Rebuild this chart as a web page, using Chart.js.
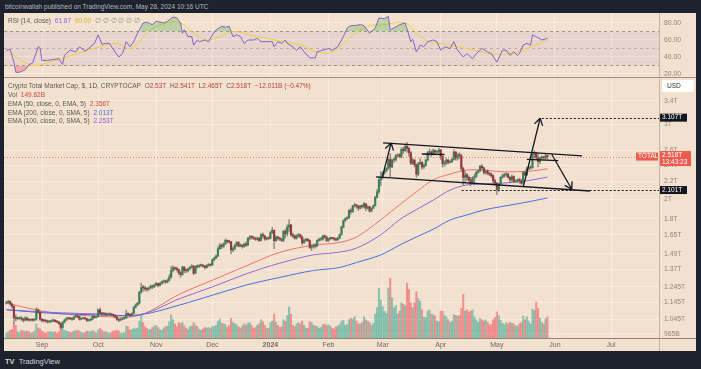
<!DOCTYPE html>
<html>
<head>
<meta charset="utf-8">
<script src="https://cdn.jsdelivr.net/npm/chart.js@4.4.1/dist/chart.umd.min.js"></script>
<style>
  body { margin: 0; width: 701px; height: 369px; background: #1e222d; position: relative; overflow: hidden; font-family: 'Liberation Sans', Arial, sans-serif; }
  #panel { position: absolute; left: 4px; top: 13px; width: 692px; height: 338px; background: #f2e1cf; }
  canvas { position: absolute; left: 4px; }
  #rsi { top: 13px; }
  #main { top: 79px; }
  .txt { position: absolute; white-space: pre; font-size: 6.5px; line-height: 8px; color: #5d5853; }
  .txt span { margin-left: 2px; }
  #pub { left: 5px; top: 3px; color: #b2b5be; }
  #usd { left: 662px; top: 80px; width: 32px; height: 12px; background: #fff; border-radius: 2px; font-size: 6.5px; line-height: 12px; text-indent: 5px; color: #333; }
  #footer { left: 5px; top: 357px; font-size: 7.5px; line-height: 9px; color: #d1d4dc; }
  .red { color: #d2463c; }
  .val { color: #b5413a; }
  .blue { color: #4a6fe3; }
  .purple { color: #8e63d6; }
  .yellow { color: #d7b92a; }
  .gray { color: #9a938c; }
</style>
</head>
<body>
<div class="txt" id="pub">bitcoinwallah published on TradingView.com, May 28, 2024 10:16 UTC</div>
<div id="panel"></div>
<canvas id="rsi" width="692" height="65"></canvas>
<canvas id="main" width="692" height="272"></canvas>

<div class="txt" style="left:8px;top:17px">RSI (14, close) <span class="purple">61.87</span> <span class="yellow">60.00</span> <span class="gray">∅ ∅ ∅ ∅ ∅ ∅</span></div>
<div class="txt" style="left:8px;top:82px">Crypto Total Market Cap, $, 1D, CRYPTOCAP <span>O</span><span class="val" style="margin:0">2.53T</span> <span>H</span><span class="val" style="margin:0">2.541T</span> <span>L</span><span class="val" style="margin:0">2.465T</span> <span>C</span><span class="val" style="margin:0">2.518T</span> <span class="val">−12.011B (−0.47%)</span></div>
<div class="txt" style="left:8px;top:91px">Vol <span class="red">149.62B</span></div>
<div class="txt" style="left:8px;top:100px">EMA (50, close, 0, EMA, 5) <span class="red">2.356T</span></div>
<div class="txt" style="left:8px;top:109px">EMA (200, close, 0, SMA, 5) <span class="blue">2.013T</span></div>
<div class="txt" style="left:8px;top:117px">EMA (100, close, 0, SMA, 5) <span class="purple">2.253T</span></div>
<div class="txt" id="usd">USD</div>
<div class="txt" id="footer"><b>TV</b>  TradingView</div>

<script>
'use strict';

// day 0 = Sep 1, 2023; first candle is Aug 13, 2023
const firstDay = -19;
const firstOpen = 1.140;

// daily closes in trillions USD (Aug 13, 2023 .. May 28, 2024)
const closes = [
  1.145, 1.150, 1.135, 1.120, 1.055, 1.048, 1.050,
  1.052, 1.046, 1.040, 1.052, 1.042, 1.040, 1.042,
  1.040, 1.045, 1.100, 1.085, 1.045, 1.038, 1.036,
  1.035, 1.030, 1.032, 1.036, 1.040, 1.032, 1.030,
  1.022, 1.000, 1.028, 1.040, 1.048, 1.050, 1.048,
  1.045, 1.058, 1.065, 1.060, 1.045, 1.048, 1.050,
  1.048, 1.038, 1.040, 1.045, 1.062, 1.055, 1.060,
  1.100, 1.080, 1.075, 1.078, 1.070, 1.075, 1.076,
  1.070, 1.068, 1.058, 1.045, 1.040, 1.045, 1.048,
  1.052, 1.078, 1.072, 1.068, 1.078, 1.115, 1.128,
  1.140, 1.210, 1.240, 1.238, 1.232, 1.228, 1.238,
  1.250, 1.245, 1.258, 1.268, 1.255, 1.268, 1.280,
  1.282, 1.278, 1.290, 1.312, 1.362, 1.380, 1.375,
  1.368, 1.345, 1.330, 1.385, 1.360, 1.358, 1.372,
  1.385, 1.392, 1.340, 1.390, 1.388, 1.398, 1.400,
  1.392, 1.382, 1.398, 1.402, 1.400, 1.440, 1.455,
  1.470, 1.530, 1.560, 1.548, 1.570, 1.600, 1.590,
  1.588, 1.520, 1.530, 1.560, 1.582, 1.552, 1.560,
  1.548, 1.570, 1.560, 1.620, 1.630, 1.628, 1.618,
  1.610, 1.620, 1.600, 1.650, 1.640, 1.612, 1.620,
  1.618, 1.670, 1.690, 1.598, 1.630, 1.620, 1.612,
  1.600, 1.680, 1.660, 1.720, 1.740, 1.650, 1.640,
  1.620, 1.640, 1.650, 1.630, 1.580, 1.600, 1.610,
  1.600, 1.540, 1.550, 1.555, 1.552, 1.600, 1.610,
  1.610, 1.640, 1.630, 1.600, 1.615, 1.620, 1.618,
  1.612, 1.605, 1.620, 1.650, 1.720, 1.780, 1.800,
  1.810, 1.880, 1.870, 1.930, 1.940, 1.925, 1.905,
  1.930, 1.920, 1.950, 1.905, 1.920, 1.875, 1.905,
  1.930, 2.020, 2.080, 2.220, 2.250, 2.300, 2.330,
  2.360, 2.480, 2.380, 2.470, 2.470, 2.530, 2.540,
  2.520, 2.620, 2.600, 2.660, 2.630, 2.570, 2.430,
  2.470, 2.410, 2.290, 2.420, 2.440, 2.380, 2.400,
  2.470, 2.570, 2.580, 2.550, 2.600, 2.580, 2.580,
  2.610, 2.520, 2.420, 2.430, 2.470, 2.440, 2.450,
  2.480, 2.580, 2.500, 2.540, 2.530, 2.360, 2.250,
  2.280, 2.250, 2.220, 2.180, 2.240, 2.260, 2.310,
  2.330, 2.390, 2.370, 2.310, 2.330, 2.300, 2.290,
  2.270, 2.210, 2.180, 2.110, 2.170, 2.250, 2.270,
  2.280, 2.290, 2.250, 2.220, 2.260, 2.200, 2.210,
  2.220, 2.210, 2.180, 2.310, 2.280, 2.360, 2.370,
  2.370, 2.550, 2.560, 2.500, 2.450, 2.500, 2.510,
  2.500, 2.530, 2.518
];

const highs = [
  1.152, 1.158, 1.155, 1.140, 1.125, 1.070, 1.058,
  1.058, 1.060, 1.052, 1.060, 1.058, 1.048, 1.046,
  1.048, 1.050, 1.112, 1.105, 1.090, 1.050, 1.044,
  1.042, 1.040, 1.038, 1.042, 1.046, 1.042, 1.036,
  1.034, 1.025, 1.032, 1.046, 1.055, 1.058, 1.054,
  1.052, 1.062, 1.072, 1.070, 1.062, 1.052, 1.054,
  1.054, 1.050, 1.046, 1.050, 1.068, 1.066, 1.064,
  1.104, 1.110, 1.085, 1.084, 1.082, 1.080, 1.080,
  1.078, 1.075, 1.070, 1.060, 1.048, 1.050, 1.052,
  1.056, 1.098, 1.082, 1.076, 1.082, 1.120, 1.135,
  1.145, 1.215, 1.270, 1.255, 1.250, 1.240, 1.245,
  1.258, 1.256, 1.264, 1.275, 1.270, 1.274, 1.286,
  1.292, 1.290, 1.298, 1.330, 1.392, 1.395, 1.385,
  1.385, 1.372, 1.352, 1.392, 1.390, 1.372, 1.378,
  1.392, 1.405, 1.398, 1.395, 1.402, 1.405, 1.408,
  1.405, 1.398, 1.405, 1.412, 1.410, 1.448, 1.462,
  1.480, 1.545, 1.575, 1.568, 1.580, 1.612, 1.605,
  1.602, 1.592, 1.545, 1.568, 1.592, 1.590, 1.572,
  1.566, 1.578, 1.588, 1.628, 1.645, 1.642, 1.634,
  1.628, 1.630, 1.626, 1.660, 1.668, 1.648, 1.630,
  1.630, 1.680, 1.718, 1.695, 1.640, 1.638, 1.628,
  1.618, 1.690, 1.700, 1.740, 1.790, 1.745, 1.665,
  1.648, 1.652, 1.662, 1.655, 1.640, 1.612, 1.620,
  1.618, 1.605, 1.565, 1.570, 1.572, 1.608, 1.620,
  1.625, 1.648, 1.650, 1.640, 1.622, 1.630, 1.626,
  1.625, 1.620, 1.630, 1.658, 1.728, 1.790, 1.808,
  1.820, 1.890, 1.905, 1.935, 1.955, 1.945, 1.935,
  1.935, 1.940, 1.965, 1.955, 1.930, 1.925, 1.910,
  1.940, 2.030, 2.110, 2.260, 2.320, 2.320, 2.345,
  2.372, 2.490, 2.560, 2.480, 2.500, 2.545, 2.555,
  2.560, 2.640, 2.650, 2.680, 2.720, 2.650, 2.590,
  2.490, 2.480, 2.420, 2.440, 2.490, 2.450, 2.420,
  2.480, 2.590, 2.620, 2.600, 2.620, 2.610, 2.595,
  2.630, 2.615, 2.525, 2.460, 2.490, 2.480, 2.460,
  2.490, 2.610, 2.590, 2.560, 2.570, 2.550, 2.380,
  2.320, 2.300, 2.270, 2.250, 2.260, 2.290, 2.330,
  2.340, 2.400, 2.410, 2.380, 2.345, 2.340, 2.310,
  2.305, 2.280, 2.230, 2.190, 2.180, 2.260, 2.290,
  2.300, 2.310, 2.300, 2.260, 2.280, 2.270, 2.220,
  2.230, 2.240, 2.230, 2.320, 2.330, 2.380, 2.390,
  2.395, 2.560, 2.600, 2.580, 2.560, 2.510, 2.530,
  2.520, 2.560, 2.541
];

const lows = [
  1.135, 1.140, 1.128, 1.110, 1.020, 1.035, 1.042,
  1.044, 1.038, 1.030, 1.036, 1.035, 1.034, 1.036,
  1.034, 1.036, 1.040, 1.078, 1.038, 1.028, 1.030,
  1.028, 1.024, 1.025, 1.028, 1.032, 1.028, 1.025,
  1.015, 0.992, 0.998, 1.024, 1.036, 1.042, 1.042,
  1.038, 1.042, 1.054, 1.052, 1.040, 1.042, 1.045,
  1.042, 1.032, 1.034, 1.036, 1.042, 1.050, 1.052,
  1.058, 1.072, 1.066, 1.068, 1.062, 1.066, 1.070,
  1.064, 1.060, 1.052, 1.038, 1.032, 1.038, 1.042,
  1.044, 1.050, 1.066, 1.060, 1.064, 1.075, 1.110,
  1.125, 1.135, 1.200, 1.215, 1.218, 1.215, 1.222,
  1.232, 1.232, 1.240, 1.252, 1.245, 1.250, 1.262,
  1.270, 1.268, 1.272, 1.285, 1.305, 1.350, 1.362,
  1.355, 1.330, 1.310, 1.325, 1.345, 1.345, 1.350,
  1.365, 1.378, 1.330, 1.338, 1.378, 1.382, 1.390,
  1.385, 1.370, 1.378, 1.390, 1.392, 1.398, 1.435,
  1.450, 1.465, 1.525, 1.530, 1.540, 1.565, 1.578,
  1.575, 1.488, 1.505, 1.520, 1.548, 1.545, 1.545,
  1.535, 1.540, 1.548, 1.555, 1.605, 1.612, 1.608,
  1.600, 1.602, 1.590, 1.596, 1.625, 1.600, 1.605,
  1.606, 1.612, 1.660, 1.530, 1.590, 1.605, 1.598,
  1.590, 1.590, 1.620, 1.640, 1.680, 1.635, 1.625,
  1.610, 1.612, 1.628, 1.620, 1.560, 1.575, 1.592,
  1.590, 1.532, 1.515, 1.535, 1.535, 1.548, 1.592,
  1.598, 1.602, 1.618, 1.590, 1.588, 1.605, 1.610,
  1.600, 1.596, 1.600, 1.615, 1.645, 1.712, 1.770,
  1.790, 1.800, 1.845, 1.862, 1.915, 1.905, 1.880,
  1.898, 1.905, 1.905, 1.880, 1.895, 1.862, 1.872,
  1.900, 1.925, 2.010, 2.060, 2.150, 2.230, 2.290,
  2.320, 2.350, 2.260, 2.370, 2.440, 2.460, 2.515,
  2.500, 2.500, 2.560, 2.590, 2.580, 2.520, 2.410,
  2.410, 2.380, 2.250, 2.270, 2.410, 2.350, 2.360,
  2.390, 2.460, 2.540, 2.520, 2.540, 2.560, 2.565,
  2.570, 2.480, 2.380, 2.390, 2.410, 2.420, 2.430,
  2.440, 2.470, 2.470, 2.470, 2.490, 2.330, 2.160,
  2.190, 2.210, 2.190, 2.150, 2.170, 2.160, 2.250,
  2.300, 2.320, 2.350, 2.290, 2.290, 2.280, 2.270,
  2.250, 2.170, 2.160, 2.050, 2.090, 2.160, 2.240,
  2.250, 2.260, 2.240, 2.190, 2.200, 2.190, 2.190,
  2.190, 2.180, 2.170, 2.170, 2.270, 2.270, 2.340,
  2.350, 2.360, 2.500, 2.470, 2.380, 2.420, 2.480,
  2.470, 2.480, 2.465
];

// daily volume, billions USD
const volumes = [
  35, 45, 55, 60, 100, 90, 45,
  40, 55, 50, 45, 50, 45, 35,
  40, 50, 100, 70, 65, 50, 40,
  35, 45, 45, 45, 40, 45, 35,
  45, 80, 75, 55, 50, 45, 40,
  40, 50, 50, 55, 50, 40, 35,
  40, 50, 45, 45, 55, 45, 35,
  60, 70, 55, 45, 45, 40, 35,
  40, 50, 50, 55, 50, 35, 35,
  40, 85, 80, 55, 60, 70, 65,
  70, 120, 165, 110, 80, 70, 60,
  60, 75, 85, 90, 75, 60, 55,
  70, 80, 85, 115, 165, 130, 100,
  80, 110, 100, 110, 85, 70, 60,
  80, 85, 110, 90, 80, 60, 55,
  65, 75, 70, 75, 70, 85, 80,
  90, 120, 135, 105, 100, 95, 75,
  90, 140, 110, 100, 95, 80, 70,
  85, 100, 90, 105, 110, 90, 70,
  75, 90, 100, 130, 115, 90, 70,
  70, 110, 120, 170, 110, 90, 75,
  80, 130, 120, 160, 220, 170, 90,
  80, 100, 110, 100, 120, 90, 70,
  70, 115, 110, 90, 85, 80, 70,
  75, 95, 100, 90, 95, 85, 70,
  65, 80, 85, 95, 120, 125, 90,
  95, 130, 140, 135, 150, 120, 100,
  100, 110, 150, 130, 120, 110, 90,
  105, 170, 215, 355, 270, 225, 190,
  175, 355, 425, 285, 215, 230, 170,
  190, 250, 240, 230, 390, 345, 250,
  215, 250, 330, 280, 260, 200, 150,
  145, 190, 200, 170, 165, 155, 120,
  115, 190, 190, 160, 150, 130, 110,
  120, 165, 160, 155, 160, 210, 310,
  190, 200, 185, 190, 200, 150, 130,
  110, 140, 130, 120, 130, 110, 95,
  95, 130, 145, 185, 160, 125, 105,
  95, 110, 100, 110, 105, 100, 85,
  85, 100, 110, 155, 130, 150, 120,
  100, 205, 195, 255, 210, 140, 110,
  100, 135, 149.62
];

// moving averages read at sample days
const emaDays = [-19, 4, 31, 52, 74, 91, 110, 127, 145, 158, 168, 181, 191, 200, 209, 218, 227, 236, 245, 254, 262, 270];
const ema50 = [1.14, 1.085, 1.062, 1.068, 1.20, 1.29, 1.40, 1.50, 1.56, 1.58, 1.63, 1.79, 1.94, 2.08, 2.22, 2.29, 2.34, 2.34, 2.32, 2.32, 2.33, 2.356];
const ema100 = [1.10, 1.085, 1.075, 1.07, 1.17, 1.245, 1.34, 1.415, 1.48, 1.50, 1.535, 1.65, 1.79, 1.89, 1.99, 2.10, 2.16, 2.17, 2.18, 2.195, 2.22, 2.253];
const ema200 = [1.10, 1.08, 1.07, 1.07, 1.13, 1.19, 1.26, 1.31, 1.36, 1.38, 1.42, 1.48, 1.56, 1.63, 1.70, 1.787, 1.836, 1.886, 1.92, 1.95, 1.98, 2.013];

const rsiDays = [-19, -17, -15, -14, -12, -9, -7, -5, -2, -1, 0, 3, 6, 9, 11, 12, 15, 18, 20, 23, 26, 28, 30, 32, 34, 36, 39, 41, 43, 45, 47, 49, 51, 52, 54, 56, 59, 61, 65, 67, 70, 72, 74, 75, 76, 78, 80, 81, 83, 84, 87, 89, 91, 93, 96, 98, 100, 102, 104, 106, 108, 110, 113, 115, 117, 120, 123, 124, 126, 128, 130, 131, 134, 136, 138, 140, 143, 146, 147, 150, 153, 155, 158, 161, 163, 165, 167, 170, 172, 175, 178, 180, 183, 185, 186, 188, 191, 194, 195, 197, 198, 200, 202, 204, 206, 209, 211, 213, 215, 218, 220, 222, 225, 227, 230, 232, 235, 238, 240, 243, 246, 248, 250, 252, 254, 255, 257, 259, 261, 262, 264, 267, 270];
const rsiValues = [48, 49, 34, 22, 22, 25, 31, 33, 52, 50, 36, 36, 37, 38, 31, 42, 48, 46, 52, 47, 52, 56, 66, 55, 56, 56, 46, 40, 44, 58, 52, 58, 68, 72, 80, 81, 78, 82, 80, 82, 87, 86, 80, 68, 72, 64, 64, 54, 60, 58, 60, 58, 66, 72, 76, 75, 76, 64, 66, 64, 56, 60, 60, 62, 58, 58, 58, 52, 58, 56, 60, 56, 52, 48, 52, 46, 39, 39, 46, 48, 50, 48, 52, 64, 74, 77, 77, 78, 77, 68, 74, 86, 85, 88, 72, 74, 78, 80, 73, 58, 61, 46, 54, 52, 58, 60, 58, 48, 52, 50, 58, 48, 40, 44, 38, 44, 50, 46, 44, 34, 48, 48, 42, 46, 42, 44, 54, 56, 54, 66, 64, 60, 61.87];
const rsiMaDays = [-19, -13, -5, 4, 13, 22, 31, 40, 47, 52, 58, 67, 74, 81, 88, 95, 102, 111, 120, 129, 138, 147, 155, 163, 174, 182, 194, 200, 207, 218, 229, 239, 250, 259, 270];
const rsiMaValues = [48, 39, 30, 34, 40, 46, 52, 56, 50, 58, 72, 80, 80, 68, 60, 64, 70, 66, 62, 58, 54, 46, 46, 60, 76, 78, 80, 68, 58, 54, 49, 44, 44, 50, 60];

const monthDays = [0, 30, 61, 91, 122, 153, 182, 213, 243, 274, 304];
const monthLabels = ['Sep', 'Oct', 'Nov', 'Dec', '2024', 'Feb', 'Mar', 'Apr', 'May', 'Jun', 'Jul'];
const priceTicks = [0.965, 1.045, 1.145, 1.245, 1.37, 1.49, 1.65, 1.8, 2, 2.2, 2.4, 2.6, 3, 3.4];
const priceTickLabels = ['965B', '1.045T', '1.145T', '1.245T', '1.37T', '1.49T', '1.65T', '1.8T', '2T', '2.2T', '2.4T', '2.6T', '3T', '3.4T'];
const rsiTicks = [20, 40, 60, 80];

// user drawings: [fromDay, fromPrice, toDay, toPrice]
const trendLines = [
  [182.2, 2.710, 288.5, 2.526],
  [178.4, 2.255, 292.8, 2.090],
  [202.9, 2.553, 215.0, 2.546],
  [259.0, 2.481, 275.8, 2.462]
];
const arrowLines = [
  [181.7, 2.243, 186.5, 2.710],
  [257.2, 2.147, 266.1, 3.097],
  [272.3, 2.549, 283.0, 2.110]
];
const targetLevels = [3.107, 2.101];
const targetFromDays = [267.0, 224.2];
const lastLabel = ['2.518T', '13:43:23'];


const dayMin = -20.3;
const dayMax = 329.6;
const font = 'Liberation Sans';
const gridColor = 'rgba(255,255,255,0.38)';
const upColor = '#3b7f5c';
const downColor = '#93393a';

const opens = closes.map((c, i) => (i === 0 ? firstOpen : closes[i - 1]));
const isUp = closes.map((c, i) => c >= opens[i]);

function noPadding(scale) {
  scale.paddingTop = 0;
  scale.paddingBottom = 0;
  scale.paddingLeft = 0;
  scale.paddingRight = 0;
}

function fixWidth(scale) {
  scale.width = 37;
  noPadding(scale);
}

function monthTicks(scale) {
  scale.ticks = monthDays.map(v => ({ value: v }));
}

function strokeLine(ctx, x1, y1, x2, y2) {
  ctx.beginPath();
  ctx.moveTo(x1, y1);
  ctx.lineTo(x2, y2);
  ctx.stroke();
}

function axisBox(ctx, x, yc, w, lines, bg) {
  const h = lines.length === 1 ? 8 : 15;
  const top = lines.length === 1 ? yc - 4 : yc - 5.5;
  ctx.fillStyle = bg;
  ctx.fillRect(x, top, w, h);
  ctx.fillStyle = '#ffffff';
  ctx.font = '6.5px "' + font + '"';
  ctx.textBaseline = 'middle';
  ctx.textAlign = 'left';
  lines.forEach((t, i) => ctx.fillText(t, x + 2, top + 4 + i * 7));
}


// ---------- RSI pane ----------
const rsiFrame = {
  id: 'rsiFrame',
  afterDraw(chart) {
    const ctx = chart.ctx;
    const a = chart.chartArea;
    ctx.save();
    ctx.lineWidth = 1;
    ctx.strokeStyle = '#c4b4a3';
    strokeLine(ctx, a.right + 0.5, 0, a.right + 0.5, chart.height);
    ctx.strokeStyle = '#9d9185';
    strokeLine(ctx, 0, a.bottom - 0.5, chart.width, a.bottom - 0.5);
    ctx.restore();
  }
};

function levelLine(v) {
  return [{ x: dayMin, y: v }, { x: dayMax, y: v }];
}

new Chart(document.getElementById('rsi'), {
  type: 'line',
  data: {
    datasets: [
      {
        data: levelLine(70), borderColor: '#8f8782', borderWidth: 0.8, borderDash: [3, 3],
        pointRadius: 0, fill: '+1', backgroundColor: 'rgba(126,87,194,0.09)', order: 10
      },
      {
        data: levelLine(30), borderColor: '#8f8782', borderWidth: 0.8, borderDash: [3, 3],
        pointRadius: 0, fill: false, order: 10
      },
      {
        data: levelLine(50), borderColor: 'rgba(143,135,130,0.6)', borderWidth: 0.8, borderDash: [3, 3],
        pointRadius: 0, fill: false, order: 10
      },
      {
        data: rsiMaDays.map((d, i) => ({ x: d, y: rsiMaValues[i] })),
        borderColor: '#f0cf3c', borderWidth: 1, pointRadius: 0, tension: 0.4, fill: false, order: 2
      },
      {
        data: rsiDays.map((d, i) => ({ x: d, y: rsiValues[i] })),
        borderColor: 'rgba(0,0,0,0)', borderWidth: 0, pointRadius: 0,
        fill: { target: { value: 30 }, above: 'rgba(0,0,0,0)', below: 'rgba(242,54,69,0.3)' }, order: 3
      },
      {
        data: rsiDays.map((d, i) => ({ x: d, y: rsiValues[i] })),
        borderColor: '#8462c9', borderWidth: 1, pointRadius: 0,
        fill: { target: { value: 70 }, above: 'rgba(76,175,80,0.32)', below: 'rgba(0,0,0,0)' }, order: 1
      }
    ]
  },
  options: {
    responsive: false,
    animation: false,
    layout: { padding: 0, autoPadding: false },
    plugins: { legend: { display: false }, tooltip: { enabled: false } },
    scales: {
      x: {
        type: 'linear', min: dayMin, max: dayMax, bounds: 'data',
        afterBuildTicks: monthTicks,
        afterFit: scale => { scale.height = 0; noPadding(scale); },
        grid: { color: gridColor, drawTicks: false },
        border: { display: false },
        ticks: { display: false }
      },
      y: {
        position: 'right', min: 15.29, max: 91.76, bounds: 'data',
        afterBuildTicks: scale => { scale.ticks = rsiTicks.map(v => ({ value: v })); },
        afterFit: fixWidth,
        grid: { color: gridColor, drawTicks: false },
        border: { display: false },
        ticks: {
          padding: 5, color: '#8e8780', font: { family: font, size: 6.8 },
          callback: v => v.toFixed(2)
        }
      }
    }
  },
  plugins: [rsiFrame]
});


// ---------- price pane ----------
const drawings = {
  id: 'drawings',
  afterDatasetsDraw(chart) {
    const ctx = chart.ctx;
    const a = chart.chartArea;
    const xs = chart.scales.x;
    const ys = chart.scales.y;
    ctx.save();
    ctx.beginPath();
    ctx.rect(a.left, a.top, a.right - a.left, a.bottom - a.top);
    ctx.clip();

    const lastY = Math.round(ys.getPixelForValue(closes[closes.length - 1])) + 0.5;
    ctx.lineWidth = 1;
    ctx.setLineDash([1, 2]);
    ctx.strokeStyle = 'rgba(242,54,69,0.6)';
    strokeLine(ctx, a.left, lastY, a.right, lastY);

    ctx.setLineDash([2, 2]);
    ctx.strokeStyle = '#131722';
    targetLevels.forEach((lv, i) => {
      const py = Math.round(ys.getPixelForValue(lv)) + 0.5;
      strokeLine(ctx, xs.getPixelForValue(targetFromDays[i]), py, a.right, py);
    });

    ctx.setLineDash([]);
    ctx.lineWidth = 1.3;
    trendLines.forEach(t => {
      strokeLine(ctx, xs.getPixelForValue(t[0]), ys.getPixelForValue(t[1]),
        xs.getPixelForValue(t[2]), ys.getPixelForValue(t[3]));
    });
    arrowLines.forEach(t => {
      const x1 = xs.getPixelForValue(t[0]);
      const y1 = ys.getPixelForValue(t[1]);
      const x2 = xs.getPixelForValue(t[2]);
      const y2 = ys.getPixelForValue(t[3]);
      strokeLine(ctx, x1, y1, x2, y2);
      const ang = Math.atan2(y2 - y1, x2 - x1);
      [-0.55, 0.55].forEach(da => {
        strokeLine(ctx, x2, y2, x2 - 8 * Math.cos(ang + da), y2 - 8 * Math.sin(ang + da));
      });
    });
    ctx.restore();
  },
  afterDraw(chart) {
    const ctx = chart.ctx;
    const a = chart.chartArea;
    const ys = chart.scales.y;
    ctx.save();
    ctx.lineWidth = 1;
    ctx.strokeStyle = '#c4b4a3';
    strokeLine(ctx, a.right + 0.5, 0, a.right + 0.5, chart.height);
    ctx.strokeStyle = '#8f857b';
    strokeLine(ctx, 0, a.bottom + 0.5, chart.width, a.bottom + 0.5);

    targetLevels.forEach(lv => {
      const py = ys.getPixelForValue(lv);
      axisBox(ctx, a.right + 1, py, 27, [lv.toFixed(3) + 'T'], '#131722');
    });
    const lastY = ys.getPixelForValue(closes[closes.length - 1]);
    axisBox(ctx, a.left + 632, lastY, 22, ['TOTAL'], '#ec5b4e');
    axisBox(ctx, a.right + 1, lastY, 31, lastLabel, '#ec5b4e');
    ctx.restore();
  }
};

new Chart(document.getElementById('main'), {
  type: 'bar',
  data: {
    datasets: [
      {
        type: 'bar', yAxisID: 'yv', order: 10, grouped: false,
        data: volumes.map((v, i) => ({ x: firstDay + i, y: v })),
        backgroundColor: isUp.map(u => (u ? 'rgba(8,153,129,0.42)' : 'rgba(242,54,69,0.45)')),
        barThickness: 1.5, borderWidth: 0
      },
      {
        type: 'line', yAxisID: 'y', order: 5,
        data: emaDays.map((d, i) => ({ x: d, y: ema200[i] })),
        borderColor: '#4a6fe3', borderWidth: 1, pointRadius: 0, tension: 0.35
      },
      {
        type: 'line', yAxisID: 'y', order: 5,
        data: emaDays.map((d, i) => ({ x: d, y: ema100[i] })),
        borderColor: '#9467d6', borderWidth: 1, pointRadius: 0, tension: 0.35
      },
      {
        type: 'line', yAxisID: 'y', order: 5,
        data: emaDays.map((d, i) => ({ x: d, y: ema50[i] })),
        borderColor: '#f2706a', borderWidth: 1, pointRadius: 0, tension: 0.35
      },
      {
        type: 'bar', yAxisID: 'y', order: 3, grouped: false,
        data: closes.map((c, i) => ({
          x: firstDay + i,
          y: [Math.min(lows[i], opens[i], c), Math.max(highs[i], opens[i], c)]
        })),
        backgroundColor: 'rgba(110,105,100,0.75)', barThickness: 0.8, borderWidth: 0
      },
      {
        type: 'bar', yAxisID: 'y', order: 2, grouped: false,
        data: closes.map((c, i) => ({ x: firstDay + i, y: [opens[i], c] })),
        backgroundColor: isUp.map(u => (u ? upColor : downColor)),
        barThickness: 1.5, borderWidth: 0, minBarLength: 1
      }
    ]
  },
  options: {
    responsive: false,
    animation: false,
    layout: { padding: 0, autoPadding: false },
    plugins: { legend: { display: false }, tooltip: { enabled: false } },
    scales: {
      x: {
        type: 'linear', min: dayMin, max: dayMax, bounds: 'data', offset: false,
        afterBuildTicks: monthTicks,
        afterFit: scale => { scale.height = 13; noPadding(scale); },
        grid: { color: gridColor, drawTicks: false, offset: false },
        border: { display: false },
        ticks: {
          autoSkip: false, maxRotation: 0, padding: 3, color: '#6f6862',
          font: ctx => ({ family: font, size: 7, weight: (ctx.tick && ctx.tick.value === 122) ? 'bold' : 'normal' }),
          callback: v => monthLabels[monthDays.indexOf(v)]
        }
      },
      y: {
        type: 'logarithmic', position: 'right', min: 0.9443, max: 3.829, bounds: 'data',
        afterBuildTicks: scale => { scale.ticks = priceTicks.map(v => ({ value: v })); },
        afterFit: fixWidth,
        grid: { color: gridColor, drawTicks: false },
        border: { display: false },
        ticks: {
          autoSkip: false, padding: 5, color: '#8e8780', font: { family: font, size: 6.8 },
          callback: v => priceTickLabels[priceTicks.indexOf(v)]
        }
      },
      yv: {
        type: 'linear', display: false, min: 0, max: 1840,
        afterFit: noPadding
      }
    }
  },
  plugins: [drawings]
});
</script>
</body>
</html>
